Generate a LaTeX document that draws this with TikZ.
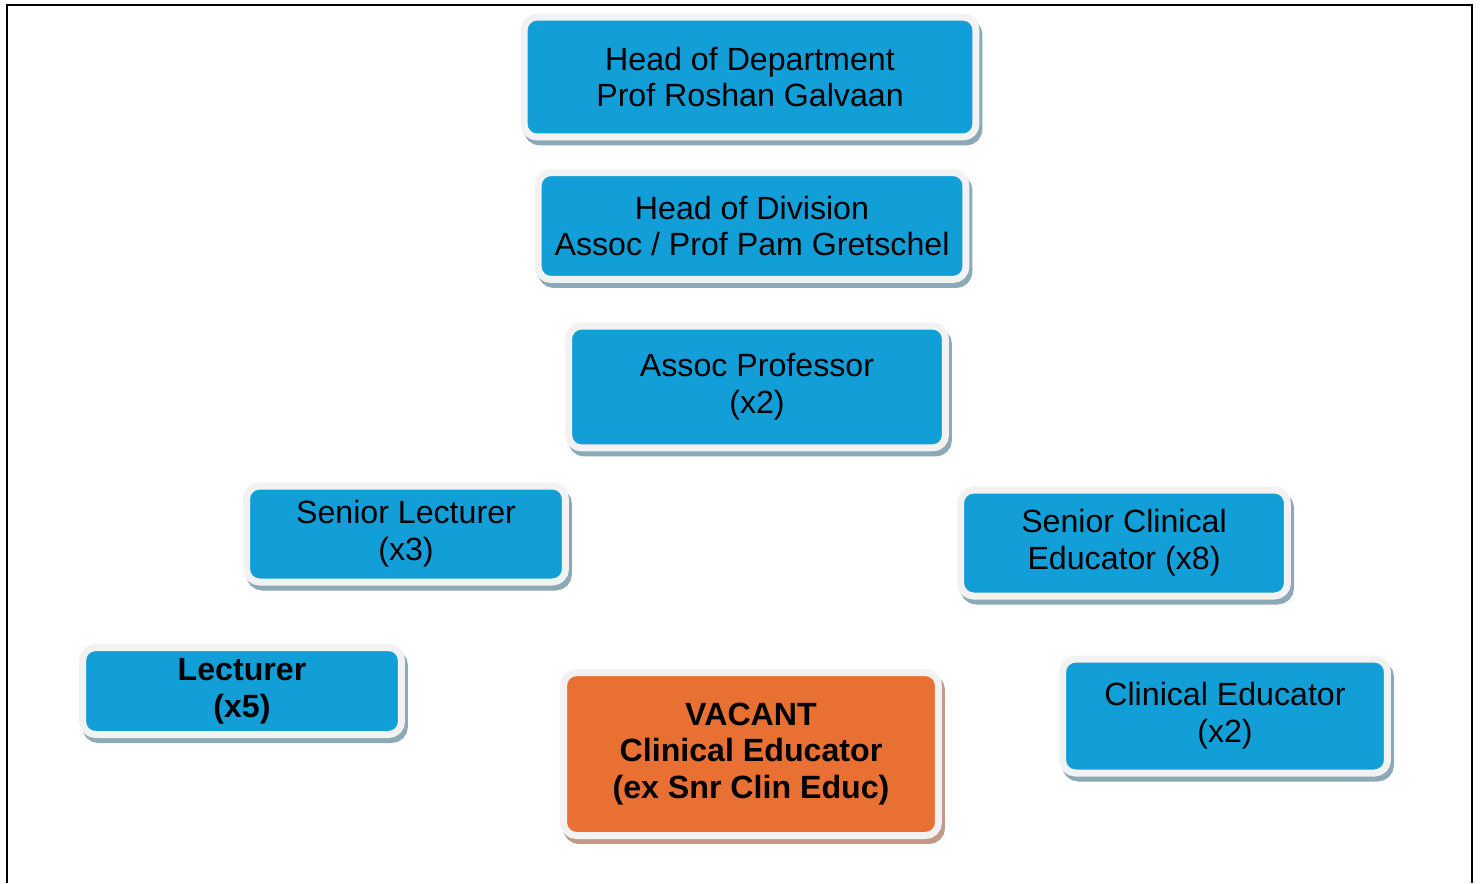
\documentclass[tikz,border=0pt]{standalone}
\usepackage{fontspec}
\setmainfont{Liberation Sans}
\definecolor{roleblue}{HTML}{129FD7}
\definecolor{vacorange}{HTML}{E87033}
\definecolor{rimgray}{HTML}{F2F2F2}
\definecolor{shadeblue}{HTML}{8CA9B7}
\definecolor{shadeorange}{HTML}{C39A88}
\usetikzlibrary{positioning}
\tikzset{
  role/.style={rounded corners=0.26cm, fill=roleblue, draw=rimgray, line width=0.14cm,
    inner sep=0pt, align=center, font=\fontsize{18.3}{21}\selectfont,
    preaction={draw=shadeblue, fill=shadeblue, transform canvas={shift={(0.06cm,-0.1cm)}}}},
  vacant/.style={role, fill=vacorange, font=\fontsize{18.3}{21}\selectfont\bfseries,
    preaction={draw=shadeorange, fill=shadeorange, transform canvas={shift={(0.06cm,-0.1cm)}}}}
}

\begin{document}
\begin{tikzpicture}[x=0.02cm, y=-0.02cm]
  \useasboundingbox (0,0) rectangle (1483,883);

  % outer frame, open at the bottom
  \draw[line width=0.04cm] (7,883) -- (7,5) -- (1472,5) -- (1472,883);

  % Head of Department
  \node[role, minimum width=9.04cm, minimum height=2.40cm] (hod) at (750,77)
    {Head of Department\\Prof Roshan Galvaan};

  % Head of Division
  \node[role, minimum width=8.56cm, minimum height=2.14cm] (hdiv) at (752,226)
    {Head of Division\\Assoc / Prof Pam Gretschel};

  % Assoc Professor
  \node[role, minimum width=7.54cm, minimum height=2.44cm] (assoc) at (757,387)
    {Assoc Professor\\(x2)};

  % Senior Lecturer
  \node[role, minimum width=6.38cm, minimum height=1.92cm] (snrlect) at (406,534)
    {Senior Lecturer\\(x3)};

  % Senior Clinical Educator
  \node[role, minimum width=6.54cm, minimum height=2.12cm] (snrclin) at (1124,543)
    {Senior Clinical\\Educator (x8)};

  % Lecturer
  \node[role, font=\fontsize{18.3}{21}\selectfont\bfseries, minimum width=6.38cm, minimum height=1.74cm] (lect) at (242,691)
    {Lecturer\\(x5)};

  % vacant post
  \node[vacant, minimum width=7.50cm, minimum height=3.26cm] (vacpost) at (751,754)
    {VACANT\\Clinical Educator\\(ex Snr Clin Educ)};

  % Clinical Educator
  \node[role, minimum width=6.50cm, minimum height=2.28cm] (clin) at (1225,716)
    {Clinical Educator\\(x2)};
\end{tikzpicture}
\end{document}
